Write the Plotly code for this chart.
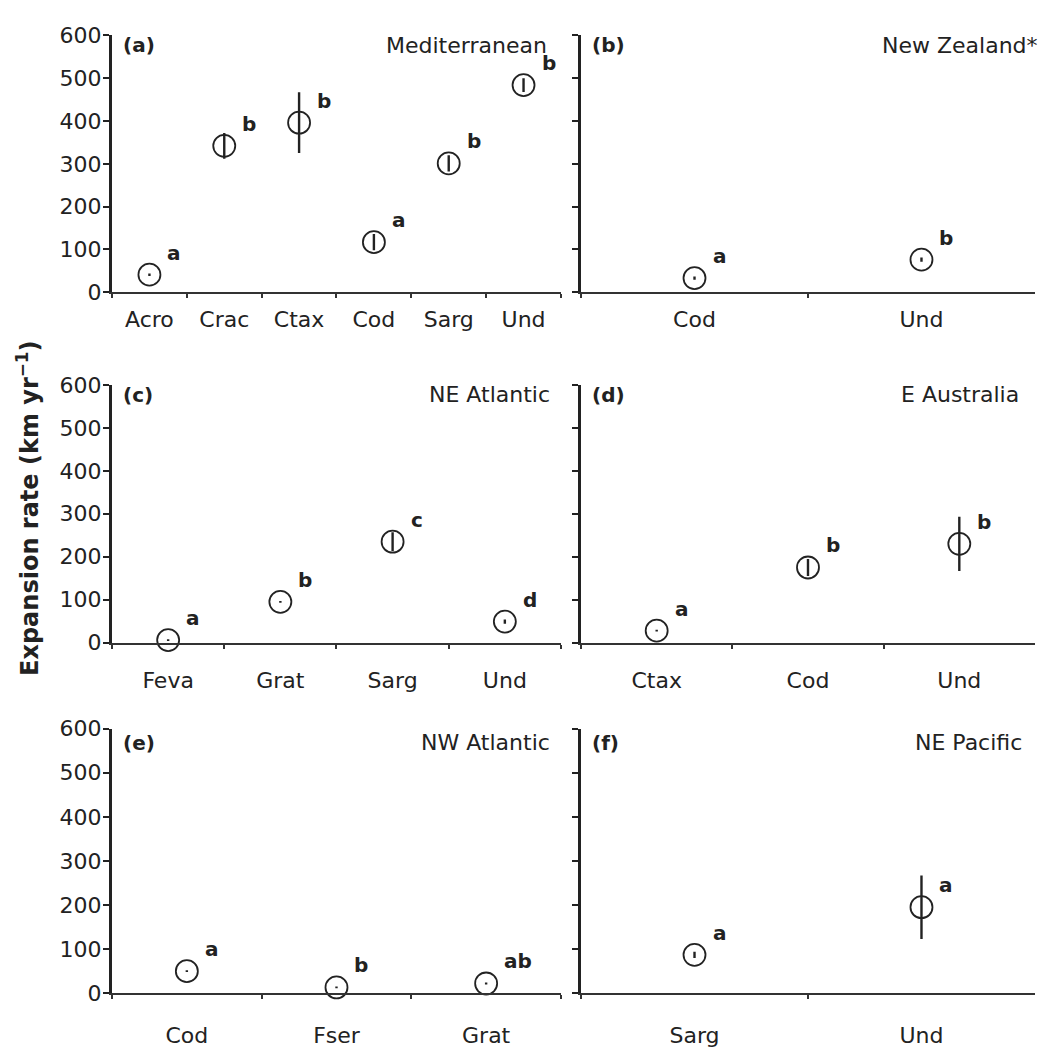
import plotly.graph_objects as go
from plotly.subplots import make_subplots

# ---- data: expansion rate (km/yr) by taxon, mean ± error, with group letters ----
# (a) Mediterranean
med_taxa = ["Acro", "Crac", "Ctax", "Cod", "Sarg", "Und"]
med_rate = [41, 342, 396, 117, 301, 484]
med_err = [3, 30, 71, 19, 19, 16]
med_grp = ["a", "b", "b", "a", "b", "b"]

# (b) New Zealand*
nz_taxa = ["Cod", "Und"]
nz_rate = [33, 76]
nz_err = [4, 5]
nz_grp = ["a", "b"]

# (c) NE Atlantic
nea_taxa = ["Feva", "Grat", "Sarg", "Und"]
nea_rate = [6, 95, 235, 49]
nea_err = [2, 2, 22, 5]
nea_grp = ["a", "b", "c", "d"]

# (d) E Australia
eau_taxa = ["Ctax", "Cod", "Und"]
eau_rate = [28, 175, 230]
eau_err = [2, 20, 63]
eau_grp = ["a", "b", "b"]

# (e) NW Atlantic
nwa_taxa = ["Cod", "Fser", "Grat"]
nwa_rate = [50, 13, 22]
nwa_err = [2, 2, 2]
nwa_grp = ["a", "b", "ab"]

# (f) NE Pacific
nep_taxa = ["Sarg", "Und"]
nep_rate = [87, 195]
nep_err = [7, 72]
nep_grp = ["a", "a"]

y_ticks = [0, 100, 200, 300, 400, 500, 600]

panels = [
    ("(a)", "Mediterranean", med_taxa, med_rate, med_err, med_grp),
    ("(b)", "New Zealand*", nz_taxa, nz_rate, nz_err, nz_grp),
    ("(c)", "NE Atlantic", nea_taxa, nea_rate, nea_err, nea_grp),
    ("(d)", "E Australia", eau_taxa, eau_rate, eau_err, eau_grp),
    ("(e)", "NW Atlantic", nwa_taxa, nwa_rate, nwa_err, nwa_grp),
    ("(f)", "NE Pacific", nep_taxa, nep_rate, nep_err, nep_grp),
]

INK = "#222222"
FONT = "DejaVu Sans"

col_domains = [[0.1072, 0.5368], [0.5560, 0.9904]]
row_domains = [[0.7282, 0.9773], [0.3883, 0.6383], [0.0483, 0.3049]]
label_standoff = [6, 17, 21]
title_shift = [-10, -10, -14]
region_xshift = [-12, 5, -9, -14, -9, -11]

fig = make_subplots(rows=3, cols=2)

for i, (tag, region, taxa, rate, err, grp) in enumerate(panels):
    r, c = i // 2 + 1, i % 2 + 1
    fig.add_trace(
        go.Scatter(
            x=taxa, y=rate, mode="markers",
            marker=dict(symbol="circle-open", size=22, color=INK, line=dict(width=1.8)),
            error_y=dict(type="data", array=err, visible=True, width=0,
                         thickness=2.4, color=INK),
            cliponaxis=False, showlegend=False, hoverinfo="skip",
        ),
        row=r, col=c,
    )
    n = len(taxa)
    xa = "x" if i == 0 else f"x{i + 1}"
    ya = "y" if i == 0 else f"y{i + 1}"
    fig.update_xaxes(
        row=r, col=c, domain=col_domains[c - 1], type="category",
        categoryorder="array", categoryarray=taxa, range=[-0.5, n - 0.5],
        showline=True, linecolor="#333333", linewidth=2,
        ticks="outside", tickson="boundaries", ticklen=4, tickwidth=1.5,
        tickcolor="#333333", showgrid=False, zeroline=False,
        tickfont=dict(family=FONT, size=22, color=INK),
        ticklabelstandoff=label_standoff[r - 1],
    )
    fig.update_yaxes(
        row=r, col=c, domain=row_domains[r - 1], range=[0, 600],
        tickmode="array", tickvals=y_ticks,
        showline=True, linecolor=INK, linewidth=3,
        ticks="outside", ticklen=6, tickwidth=2, tickcolor=INK,
        showgrid=False, zeroline=False, showticklabels=(c == 1),
        tickfont=dict(family=FONT, size=22, color=INK),
        ticklabelstandoff=-3,
    )
    # panel tag and region name
    fig.add_annotation(
        xref=f"{xa} domain", yref=f"{ya} domain", x=0, y=1,
        xanchor="left", yanchor="middle", xshift=9, yshift=title_shift[r - 1],
        text=f"<b>{tag}</b>", showarrow=False,
        font=dict(family=FONT, size=20, color=INK),
    )
    fig.add_annotation(
        xref=f"{xa} domain", yref=f"{ya} domain", x=1, y=1,
        xanchor="right", yanchor="middle", xshift=region_xshift[i],
        yshift=title_shift[r - 1],
        text=region, showarrow=False,
        font=dict(family=FONT, size=22, color=INK),
    )
    # significance-group letters beside each point
    for t, v, g in zip(taxa, rate, grp):
        fig.add_annotation(
            xref=xa, yref=ya, x=t, y=v, xanchor="left", yanchor="middle",
            xshift=16, yshift=22, text=f"<b>{g}</b>", showarrow=False,
            font=dict(family=FONT, size=20, color=INK),
        )

fig.add_annotation(
    xref="paper", yref="paper", x=28 / 1045, y=1 - 509 / 1056,
    xanchor="center", yanchor="middle", textangle=-90,
    text="<b>Expansion rate (km yr<sup>\u22121</sup>)</b>", showarrow=False,
    font=dict(family=FONT, size=24, color=INK),
)

fig.update_layout(
    width=1045, height=1056,
    margin=dict(l=0, r=0, t=0, b=0),
    paper_bgcolor="white", plot_bgcolor="white",
)

fig.write_html("out.html")
